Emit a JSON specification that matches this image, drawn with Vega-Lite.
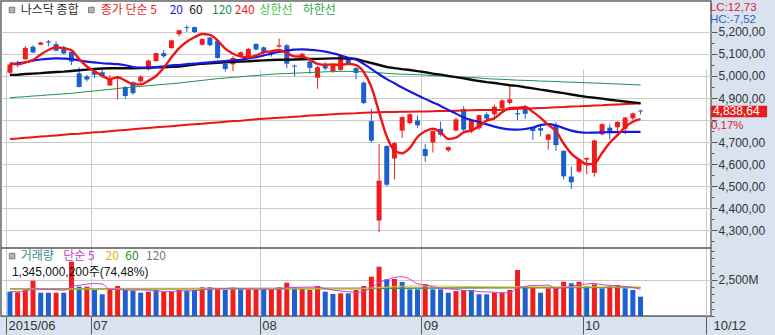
{
  "$schema": "https://vega.github.io/schema/vega-lite/v6.json",
  "width": 710,
  "height": 315,
  "autosize": "none",
  "padding": {"left": 1, "top": 1, "right": 64, "bottom": 19},
  "background": "#d8e3ef",
  "config": {
    "view": {"fill": "white", "stroke": "#6a6a6a", "strokeWidth": 1.5},
    "axis": {"labelFont": "Liberation Sans", "labelColor": "#333333", "titleFont": "Liberation Sans"},
    "text": {"font": "Noto Sans CJK KR"}
  },
  "datasets": {
    "px": [
      {"i":0,"d":"2015-06-16","o":5015,"h":5058,"l":5010,"c":5052,"cd":"up","m5":5058,"m20":5053,"m60":5005,"m120":4901,"m240":4714,"v":1687,"vd":"dn","v5":1697,"v20":1860,"v60":1850,"v120":1900},
      {"i":1,"d":"2015-06-17","o":5058,"h":5070,"l":5040,"c":5050,"cd":"dn","m5":5053,"m20":5058,"m60":5006,"m120":4904,"m240":4716,"v":1646,"vd":"up","v5":1687,"v20":1860,"v60":1851,"v120":1901},
      {"i":2,"d":"2015-06-18","o":5076,"h":5136,"l":5074,"c":5128,"cd":"up","m5":5062,"m20":5062,"m60":5009,"m120":4906,"m240":4719,"v":1854,"vd":"up","v5":1717,"v20":1860,"v60":1852,"v120":1902},
      {"i":3,"d":"2015-06-19","o":5133,"h":5140,"l":5104,"c":5107,"cd":"dn","m5":5073,"m20":5070,"m60":5011,"m120":4909,"m240":4722,"v":2451,"vd":"up","v5":1868,"v20":1862,"v60":1852,"v120":1903},
      {"i":4,"d":"2015-06-22","o":5142,"h":5156,"l":5140,"c":5152,"cd":"up","m5":5098,"m20":5075,"m60":5013,"m120":4911,"m240":4725,"v":1618,"vd":"dn","v5":1851,"v20":1862,"v60":1853,"v120":1904},
      {"i":5,"d":"2015-06-23","o":5157,"h":5164,"l":5135,"c":5152,"cd":"dn","m5":5118,"m20":5078,"m60":5016,"m120":4914,"m240":4727,"v":1618,"vd":"dn","v5":1837,"v20":1863,"v60":1853,"v120":1905},
      {"i":6,"d":"2015-06-24","o":5145,"h":5157,"l":5112,"c":5115,"cd":"dn","m5":5131,"m20":5080,"m60":5018,"m120":4916,"m240":4730,"v":1618,"vd":"up","v5":1832,"v20":1864,"v60":1854,"v120":1906},
      {"i":7,"d":"2015-06-25","o":5132,"h":5138,"l":5098,"c":5102,"cd":"dn","m5":5126,"m20":5079,"m60":5020,"m120":4919,"m240":4733,"v":1618,"vd":"dn","v5":1785,"v20":1864,"v60":1855,"v120":1907},
      {"i":8,"d":"2015-06-26","o":5110,"h":5112,"l":5050,"c":5066,"cd":"dn","m5":5117,"m20":5077,"m60":5023,"m120":4921,"m240":4736,"v":3771,"vd":"up","v5":2049,"v20":1868,"v60":1856,"v120":1908},
      {"i":9,"d":"2015-06-29","o":5012,"h":5040,"l":4948,"c":4950,"cd":"dn","m5":5077,"m20":5071,"m60":5026,"m120":4925,"m240":4738,"v":2035,"vd":"dn","v5":2132,"v20":1870,"v60":1857,"v120":1909},
      {"i":10,"d":"2015-06-30","o":4998,"h":5005,"l":4975,"c":4984,"cd":"dn","m5":5043,"m20":5065,"m60":5029,"m120":4929,"m240":4741,"v":2035,"vd":"up","v5":2215,"v20":1872,"v60":1858,"v120":1910},
      {"i":11,"d":"2015-07-01","o":5022,"h":5035,"l":4990,"c":5006,"cd":"dn","m5":5022,"m20":5062,"m60":5032,"m120":4932,"m240":4744,"v":1805,"vd":"dn","v5":2253,"v20":1874,"v60":1858,"v120":1911},
      {"i":12,"d":"2015-07-02","o":5017,"h":5030,"l":4990,"c":4998,"cd":"dn","m5":5001,"m20":5058,"m60":5034,"m120":4936,"m240":4746,"v":1507,"vd":"dn","v5":2231,"v20":1875,"v60":1859,"v120":1912},
      {"i":13,"d":"2015-07-06","o":4957,"h":5005,"l":4955,"c":4990,"cd":"up","m5":4986,"m20":5056,"m60":5035,"m120":4939,"m240":4749,"v":1805,"vd":"up","v5":1837,"v20":1876,"v60":1860,"v120":1913},
      {"i":14,"d":"2015-07-07","o":4989,"h":4998,"l":4893,"c":4994,"cd":"up","m5":4994,"m20":5054,"m60":5035,"m120":4943,"m240":4752,"v":2083,"vd":"up","v5":1847,"v20":1877,"v60":1860,"v120":1914},
      {"i":15,"d":"2015-07-08","o":4950,"h":4955,"l":4897,"c":4909,"cd":"dn","m5":4979,"m20":5049,"m60":5035,"m120":4947,"m240":4755,"v":1805,"vd":"dn","v5":1801,"v20":1878,"v60":1861,"v120":1915},
      {"i":16,"d":"2015-07-09","o":4972,"h":4975,"l":4915,"c":4922,"cd":"dn","m5":4963,"m20":5041,"m60":5035,"m120":4950,"m240":4758,"v":1757,"vd":"dn","v5":1791,"v20":1878,"v60":1862,"v120":1916},
      {"i":17,"d":"2015-07-10","o":4975,"h":5003,"l":4970,"c":4997,"cd":"up","m5":4962,"m20":5038,"m60":5036,"m120":4953,"m240":4761,"v":1618,"vd":"dn","v5":1814,"v20":1879,"v60":1862,"v120":1917},
      {"i":18,"d":"2015-07-13","o":5030,"h":5075,"l":5025,"c":5070,"cd":"up","m5":4978,"m20":5038,"m60":5037,"m120":4956,"m240":4764,"v":1687,"vd":"up","v5":1790,"v20":1880,"v60":1863,"v120":1918},
      {"i":19,"d":"2015-07-14","o":5068,"h":5106,"l":5065,"c":5104,"cd":"up","m5":5000,"m20":5040,"m60":5039,"m120":4959,"m240":4767,"v":1805,"vd":"dn","v5":1734,"v20":1880,"v60":1864,"v120":1919},
      {"i":20,"d":"2015-07-15","o":5104,"h":5118,"l":5082,"c":5090,"cd":"dn","m5":5037,"m20":5044,"m60":5040,"m120":4962,"m240":4769,"v":1687,"vd":"up","v5":1711,"v20":1881,"v60":1864,"v120":1920},
      {"i":21,"d":"2015-07-16","o":5127,"h":5164,"l":5124,"c":5162,"cd":"up","m5":5085,"m20":5048,"m60":5042,"m120":4965,"m240":4772,"v":1687,"vd":"up","v5":1697,"v20":1882,"v60":1865,"v120":1921},
      {"i":22,"d":"2015-07-17","o":5190,"h":5210,"l":5180,"c":5208,"cd":"up","m5":5127,"m20":5050,"m60":5043,"m120":4968,"m240":4775,"v":1805,"vd":"up","v5":1734,"v20":1882,"v60":1866,"v120":1922},
      {"i":23,"d":"2015-07-20","o":5222,"h":5231,"l":5200,"c":5218,"cd":"dn","m5":5156,"m20":5054,"m60":5048,"m120":4972,"m240":4778,"v":1757,"vd":"dn","v5":1748,"v20":1883,"v60":1866,"v120":1923},
      {"i":24,"d":"2015-07-21","o":5222,"h":5225,"l":5195,"c":5200,"cd":"dn","m5":5176,"m20":5056,"m60":5052,"m120":4976,"m240":4781,"v":1805,"vd":"dn","v5":1748,"v20":1883,"v60":1867,"v120":1924},
      {"i":25,"d":"2015-07-22","o":5142,"h":5172,"l":5138,"c":5168,"cd":"up","m5":5191,"m20":5060,"m60":5056,"m120":4980,"m240":4783,"v":1993,"vd":"up","v5":1809,"v20":1884,"v60":1868,"v120":1925},
      {"i":26,"d":"2015-07-23","o":5175,"h":5178,"l":5135,"c":5140,"cd":"dn","m5":5187,"m20":5062,"m60":5058,"m120":4984,"m240":4786,"v":1993,"vd":"dn","v5":1871,"v20":1884,"v60":1868,"v120":1926},
      {"i":27,"d":"2015-07-24","o":5160,"h":5165,"l":5078,"c":5082,"cd":"dn","m5":5162,"m20":5065,"m60":5060,"m120":4988,"m240":4789,"v":1923,"vd":"up","v5":1894,"v20":1885,"v60":1869,"v120":1927},
      {"i":28,"d":"2015-07-27","o":5055,"h":5060,"l":5020,"c":5032,"cd":"dn","m5":5124,"m20":5068,"m60":5062,"m120":4991,"m240":4792,"v":1805,"vd":"dn","v5":1904,"v20":1885,"v60":1870,"v120":1928},
      {"i":29,"d":"2015-07-28","o":5053,"h":5090,"l":5022,"c":5082,"cd":"up","m5":5101,"m20":5071,"m60":5064,"m120":4994,"m240":4795,"v":1965,"vd":"up","v5":1936,"v20":1885,"v60":1870,"v120":1929},
      {"i":30,"d":"2015-07-29","o":5088,"h":5112,"l":5085,"c":5108,"cd":"up","m5":5089,"m20":5074,"m60":5066,"m120":4996,"m240":4797,"v":1854,"vd":"dn","v5":1908,"v20":1885,"v60":1871,"v120":1930},
      {"i":31,"d":"2015-07-30","o":5082,"h":5127,"l":5078,"c":5123,"cd":"up","m5":5085,"m20":5080,"m60":5067,"m120":5000,"m240":4800,"v":1854,"vd":"up","v5":1880,"v20":1885,"v60":1872,"v120":1931},
      {"i":32,"d":"2015-07-31","o":5145,"h":5150,"l":5115,"c":5120,"cd":"dn","m5":5093,"m20":5086,"m60":5069,"m120":5002,"m240":4803,"v":1854,"vd":"up","v5":1866,"v20":1885,"v60":1872,"v120":1932},
      {"i":33,"d":"2015-08-03","o":5130,"h":5135,"l":5095,"c":5108,"cd":"dn","m5":5108,"m20":5093,"m60":5071,"m120":5005,"m240":4806,"v":1854,"vd":"dn","v5":1876,"v20":1884,"v60":1873,"v120":1933},
      {"i":34,"d":"2015-08-04","o":5112,"h":5118,"l":5088,"c":5100,"cd":"dn","m5":5112,"m20":5102,"m60":5073,"m120":5008,"m240":4808,"v":1805,"vd":"up","v5":1844,"v20":1884,"v60":1874,"v120":1934},
      {"i":35,"d":"2015-08-05","o":5134,"h":5170,"l":5128,"c":5140,"cd":"up","m5":5118,"m20":5109,"m60":5074,"m120":5010,"m240":4810,"v":1993,"vd":"up","v5":1872,"v20":1884,"v60":1874,"v120":1935},
      {"i":36,"d":"2015-08-06","o":5140,"h":5145,"l":5035,"c":5056,"cd":"dn","m5":5105,"m20":5115,"m60":5074,"m120":5011,"m240":4812,"v":2312,"vd":"up","v5":1964,"v20":1885,"v60":1875,"v120":1936},
      {"i":37,"d":"2015-08-07","o":5047,"h":5052,"l":4998,"c":5043,"cd":"dn","m5":5089,"m20":5120,"m60":5075,"m120":5013,"m240":4815,"v":1993,"vd":"dn","v5":1991,"v20":1886,"v60":1876,"v120":1937},
      {"i":38,"d":"2015-08-10","o":5082,"h":5106,"l":5078,"c":5101,"cd":"up","m5":5088,"m20":5121,"m60":5076,"m120":5014,"m240":4817,"v":1923,"vd":"up","v5":2005,"v20":1887,"v60":1876,"v120":1938},
      {"i":39,"d":"2015-08-11","o":5066,"h":5070,"l":5010,"c":5037,"cd":"dn","m5":5075,"m20":5119,"m60":5077,"m120":5016,"m240":4820,"v":1805,"vd":"up","v5":2005,"v20":1887,"v60":1877,"v120":1939},
      {"i":40,"d":"2015-08-12","o":4992,"h":5046,"l":4942,"c":5040,"cd":"up","m5":5055,"m20":5116,"m60":5078,"m120":5017,"m240":4822,"v":2083,"vd":"up","v5":2023,"v20":1888,"v60":1878,"v120":1940},
      {"i":41,"d":"2015-08-13","o":5048,"h":5062,"l":5025,"c":5034,"cd":"dn","m5":5051,"m20":5111,"m60":5079,"m120":5019,"m240":4824,"v":1687,"vd":"dn","v5":1898,"v20":1886,"v60":1880,"v120":1941},
      {"i":42,"d":"2015-08-14","o":5022,"h":5055,"l":5015,"c":5048,"cd":"up","m5":5052,"m20":5103,"m60":5080,"m120":5020,"m240":4826,"v":1528,"vd":"dn","v5":1805,"v20":1884,"v60":1882,"v120":1942},
      {"i":43,"d":"2015-08-17","o":5028,"h":5095,"l":5022,"c":5092,"cd":"up","m5":5050,"m20":5094,"m60":5080,"m120":5021,"m240":4828,"v":1576,"vd":"up","v5":1736,"v20":1882,"v60":1884,"v120":1943},
      {"i":44,"d":"2015-08-18","o":5076,"h":5082,"l":5048,"c":5059,"cd":"dn","m5":5055,"m20":5083,"m60":5079,"m120":5021,"m240":4830,"v":1576,"vd":"dn","v5":1690,"v20":1880,"v60":1886,"v120":1944},
      {"i":45,"d":"2015-08-19","o":5036,"h":5040,"l":4985,"c":5014,"cd":"dn","m5":5049,"m20":5075,"m60":5077,"m120":5020,"m240":4831,"v":1805,"vd":"up","v5":1634,"v20":1882,"v60":1888,"v120":1945},
      {"i":46,"d":"2015-08-20","o":4970,"h":4975,"l":4872,"c":4877,"cd":"dn","m5":5018,"m20":5055,"m60":5068,"m120":5019,"m240":4833,"v":2083,"vd":"up","v5":1714,"v20":1900,"v60":1891,"v120":1946},
      {"i":47,"d":"2015-08-21","o":4795,"h":4850,"l":4697,"c":4706,"cd":"dn","m5":4950,"m20":5032,"m60":5059,"m120":5017,"m240":4834,"v":2729,"vd":"up","v5":1954,"v20":1930,"v60":1895,"v120":1947},
      {"i":48,"d":"2015-08-24","o":4343,"h":4690,"l":4290,"c":4524,"cd":"up","m5":4836,"m20":5008,"m60":5050,"m120":5015,"m240":4835,"v":3423,"vd":"up","v5":2323,"v20":1975,"v60":1900,"v120":1949},
      {"i":49,"d":"2015-08-25","o":4682,"h":4685,"l":4500,"c":4506,"cd":"dn","m5":4725,"m20":4986,"m60":5041,"m120":5012,"m240":4836,"v":2548,"vd":"dn","v5":2518,"v20":2010,"v60":1905,"v120":1950},
      {"i":50,"d":"2015-08-26","o":4625,"h":4700,"l":4530,"c":4695,"cd":"up","m5":4662,"m20":4967,"m60":5036,"m120":5010,"m240":4836,"v":2569,"vd":"up","v5":2670,"v20":2045,"v60":1910,"v120":1951},
      {"i":51,"d":"2015-08-27","o":4752,"h":4818,"l":4718,"c":4813,"cd":"up","m5":4649,"m20":4948,"m60":5031,"m120":5008,"m240":4837,"v":2361,"vd":"dn","v5":2726,"v20":2070,"v60":1914,"v120":1952},
      {"i":52,"d":"2015-08-28","o":4786,"h":4830,"l":4780,"c":4826,"cd":"up","m5":4673,"m20":4930,"m60":5027,"m120":5007,"m240":4838,"v":1854,"vd":"dn","v5":2551,"v20":2085,"v60":1917,"v120":1953},
      {"i":53,"d":"2015-08-31","o":4798,"h":4820,"l":4765,"c":4776,"cd":"dn","m5":4723,"m20":4913,"m60":5022,"m120":5006,"m240":4839,"v":1854,"vd":"dn","v5":2237,"v20":2090,"v60":1920,"v120":1954},
      {"i":54,"d":"2015-09-01","o":4668,"h":4690,"l":4610,"c":4636,"cd":"dn","m5":4749,"m20":4896,"m60":5017,"m120":5004,"m240":4839,"v":2222,"vd":"up","v5":2172,"v20":2095,"v60":1923,"v120":1955},
      {"i":55,"d":"2015-09-02","o":4698,"h":4752,"l":4652,"c":4750,"cd":"up","m5":4760,"m20":4880,"m60":5011,"m120":5002,"m240":4840,"v":1854,"vd":"dn","v5":2029,"v20":2090,"v60":1926,"v120":1956},
      {"i":56,"d":"2015-09-03","o":4760,"h":4792,"l":4725,"c":4733,"cd":"dn","m5":4744,"m20":4864,"m60":5006,"m120":5001,"m240":4841,"v":1854,"vd":"dn","v5":1928,"v20":2080,"v60":1929,"v120":1957},
      {"i":57,"d":"2015-09-04","o":4662,"h":4680,"l":4655,"c":4677,"cd":"up","m5":4714,"m20":4846,"m60":5000,"m120":4999,"m240":4841,"v":1618,"vd":"dn","v5":1880,"v20":2070,"v60":1932,"v120":1958},
      {"i":58,"d":"2015-09-08","o":4752,"h":4810,"l":4748,"c":4803,"cd":"up","m5":4720,"m20":4829,"m60":4995,"m120":4997,"m240":4842,"v":1736,"vd":"up","v5":1857,"v20":2060,"v60":1935,"v120":1959},
      {"i":59,"d":"2015-09-09","o":4850,"h":4862,"l":4750,"c":4756,"cd":"dn","m5":4744,"m20":4811,"m60":4989,"m120":4995,"m240":4843,"v":1805,"vd":"up","v5":1773,"v20":2050,"v60":1938,"v120":1960},
      {"i":60,"d":"2015-09-10","o":4748,"h":4800,"l":4740,"c":4796,"cd":"up","m5":4753,"m20":4800,"m60":4983,"m120":4993,"m240":4844,"v":1805,"vd":"dn","v5":1764,"v20":2045,"v60":1941,"v120":1961},
      {"i":61,"d":"2015-09-11","o":4762,"h":4825,"l":4755,"c":4822,"cd":"up","m5":4771,"m20":4791,"m60":4977,"m120":4991,"m240":4845,"v":1507,"vd":"dn","v5":1694,"v20":2040,"v60":1943,"v120":1962},
      {"i":62,"d":"2015-09-14","o":4826,"h":4835,"l":4795,"c":4806,"cd":"dn","m5":4797,"m20":4780,"m60":4972,"m120":4988,"m240":4845,"v":1507,"vd":"dn","v5":1672,"v20":2035,"v60":1945,"v120":1963},
      {"i":63,"d":"2015-09-15","o":4826,"h":4870,"l":4800,"c":4860,"cd":"up","m5":4808,"m20":4770,"m60":4968,"m120":4986,"m240":4846,"v":1618,"vd":"up","v5":1648,"v20":2030,"v60":1946,"v120":1964},
      {"i":64,"d":"2015-09-16","o":4853,"h":4895,"l":4850,"c":4889,"cd":"up","m5":4835,"m20":4762,"m60":4963,"m120":4985,"m240":4847,"v":1618,"vd":"up","v5":1611,"v20":2025,"v60":1947,"v120":1965},
      {"i":65,"d":"2015-09-17","o":4878,"h":4960,"l":4870,"c":4894,"cd":"up","m5":4854,"m20":4757,"m60":4958,"m120":4983,"m240":4849,"v":1805,"vd":"up","v5":1611,"v20":2020,"v60":1948,"v120":1966},
      {"i":66,"d":"2015-09-18","o":4831,"h":4860,"l":4800,"c":4826,"cd":"dn","m5":4855,"m20":4756,"m60":4955,"m120":4981,"m240":4851,"v":3194,"vd":"up","v5":1948,"v20":2030,"v60":1950,"v120":1967},
      {"i":67,"d":"2015-09-21","o":4854,"h":4868,"l":4805,"c":4828,"cd":"dn","m5":4859,"m20":4759,"m60":4949,"m120":4980,"m240":4852,"v":2035,"vd":"dn","v5":2054,"v20":2030,"v60":1951,"v120":1968},
      {"i":68,"d":"2015-09-22","o":4765,"h":4768,"l":4710,"c":4750,"cd":"dn","m5":4837,"m20":4766,"m60":4944,"m120":4979,"m240":4853,"v":1965,"vd":"up","v5":2123,"v20":2030,"v60":1952,"v120":1969},
      {"i":69,"d":"2015-09-23","o":4763,"h":4775,"l":4725,"c":4752,"cd":"dn","m5":4810,"m20":4777,"m60":4938,"m120":4977,"m240":4855,"v":1618,"vd":"dn","v5":2123,"v20":2028,"v60":1953,"v120":1970},
      {"i":70,"d":"2015-09-24","o":4710,"h":4738,"l":4665,"c":4734,"cd":"up","m5":4778,"m20":4781,"m60":4933,"m120":4976,"m240":4856,"v":1923,"vd":"up","v5":2147,"v20":2028,"v60":1954,"v120":1972},
      {"i":71,"d":"2015-09-25","o":4778,"h":4790,"l":4660,"c":4686,"cd":"dn","m5":4750,"m20":4775,"m60":4927,"m120":4975,"m240":4858,"v":1965,"vd":"up","v5":1901,"v20":2026,"v60":1955,"v120":1973},
      {"i":72,"d":"2015-09-28","o":4660,"h":4662,"l":4530,"c":4544,"cd":"dn","m5":4693,"m20":4763,"m60":4922,"m120":4973,"m240":4859,"v":2382,"vd":"up","v5":1971,"v20":2026,"v60":1956,"v120":1975},
      {"i":73,"d":"2015-09-29","o":4543,"h":4588,"l":4487,"c":4517,"cd":"dn","m5":4647,"m20":4752,"m60":4916,"m120":4972,"m240":4861,"v":2271,"vd":"dn","v5":2032,"v20":2025,"v60":1957,"v120":1977},
      {"i":74,"d":"2015-09-30","o":4566,"h":4622,"l":4560,"c":4620,"cd":"up","m5":4620,"m20":4745,"m60":4910,"m120":4971,"m240":4862,"v":2382,"vd":"up","v5":2185,"v20":2025,"v60":1958,"v120":1979},
      {"i":75,"d":"2015-10-01","o":4620,"h":4630,"l":4554,"c":4627,"cd":"up","m5":4599,"m20":4742,"m60":4905,"m120":4969,"m240":4864,"v":2083,"vd":"dn","v5":2217,"v20":2024,"v60":1959,"v120":1981},
      {"i":76,"d":"2015-10-02","o":4560,"h":4710,"l":4543,"c":4707,"cd":"up","m5":4603,"m20":4743,"m60":4901,"m120":4968,"m240":4866,"v":2201,"vd":"up","v5":2264,"v20":2023,"v60":1960,"v120":1983},
      {"i":77,"d":"2015-10-05","o":4735,"h":4785,"l":4730,"c":4781,"cd":"up","m5":4650,"m20":4744,"m60":4897,"m120":4967,"m240":4867,"v":1923,"vd":"dn","v5":2172,"v20":2022,"v60":1961,"v120":1985},
      {"i":78,"d":"2015-10-06","o":4765,"h":4780,"l":4712,"c":4748,"cd":"dn","m5":4697,"m20":4745,"m60":4892,"m120":4965,"m240":4869,"v":2083,"vd":"up","v5":2134,"v20":2021,"v60":1962,"v120":1987},
      {"i":79,"d":"2015-10-07","o":4767,"h":4795,"l":4740,"c":4791,"cd":"up","m5":4731,"m20":4745,"m60":4888,"m120":4964,"m240":4871,"v":2153,"vd":"up","v5":2089,"v20":2020,"v60":1963,"v120":1988},
      {"i":80,"d":"2015-10-08","o":4760,"h":4815,"l":4735,"c":4811,"cd":"up","m5":4768,"m20":4746,"m60":4884,"m120":4962,"m240":4873,"v":1923,"vd":"dn","v5":2057,"v20":2018,"v60":1964,"v120":1989},
      {"i":81,"d":"2015-10-09","o":4808,"h":4834,"l":4800,"c":4830,"cd":"up","m5":4792,"m20":4746,"m60":4880,"m120":4961,"m240":4874,"v":1805,"vd":"dn","v5":1977,"v20":2017,"v60":1965,"v120":1990},
      {"i":82,"d":"2015-10-12","o":4843,"h":4846,"l":4825,"c":4838.64,"cd":"dn","m5":4804,"m20":4746,"m60":4876,"m120":4959,"m240":4876,"v":1345,"vd":"dn","v5":1862,"v20":2015,"v60":1966,"v120":1990}
    ],
    "ptx": [
      {"t":"나스닥 종합","xi":1.41,"py":5300,"k":"name"},
      {"t":"종가 단순 5","xi":11.8,"py":5300,"k":"ma5"},
      {"t":"20","xi":20.77,"py":5300,"k":"ma20"},
      {"t":"60","xi":23.33,"py":5300,"k":"ma60"},
      {"t":"120","xi":26.28,"py":5300,"k":"ma120"},
      {"t":"240","xi":29.23,"py":5300,"k":"ma240"},
      {"t":"상한선","xi":32.44,"py":5300,"k":"hi"},
      {"t":"하한선","xi":38.08,"py":5300,"k":"lo"}
    ],
    "psq": [
      {"xi":0.26,"py":5300},
      {"xi":10.58,"py":5300}
    ],
    "rtx": [
      {"t":"LC:12,73","xi":91.03,"py":5307,"k":"lc"},
      {"t":"HC:-7,52","xi":91.03,"py":5255,"k":"hc"},
      {"t":"0,17%","xi":91.15,"py":4775,"k":"lc"}
    ],
    "pbox": [
      {"xi":91.15,"xe":98.46,"pl":4812.3,"ph":4864.5,"t":"4,838,64","tx":91.41,"py":4838.64}
    ],
    "vtx": [
      {"t":"거래량","xi":1.41,"vy":4200,"k":"vol"},
      {"t":"단순 5","xi":6.92,"vy":4200,"k":"v5"},
      {"t":"20","xi":12.44,"vy":4200,"k":"v20"},
      {"t":"60","xi":15.0,"vy":4200,"k":"v60"},
      {"t":"120","xi":17.69,"vy":4200,"k":"v120"}
    ],
    "vtx2": [
      {"t":"1,345,000,200주(74,48%)","xi":0.26,"vy":3090}
    ],
    "vsq": [
      {"xi":0.28,"vy":4160}
    ]
  },
  "layer": [
    {
      "data": {"name": "px"},
      "resolve": {"scale": {"color": "independent"}, "axis": {"y": "independent"}},
      "layer": [
        {
          "mark": {"type": "rule", "strokeWidth": 1},
          "encoding": {
            "x": {"field": "i", "type": "quantitative", "title": null,
                  "scale": {"domain": [-0.5128, 90.513], "nice": false, "zero": false},
                  "axis": {"values": [-0.5128, 10.5, 32.5, 53.5, 74.5, 90.513],
                           "labelExpr": "datum.value < 0 ? '2015/06' : datum.value < 11 ? '07' : datum.value < 33 ? '08' : datum.value < 54 ? '09' : datum.value < 75 ? '10' : '10/12'",
                           "labelAlign": "left", "labelBaseline": "top",
                           "labelOffset": {"condition": {"test": "datum.value > 90", "value": 7}, "value": 2},
                           "tickSize": 18, "tickColor": "#5a5a5a", "domainColor": "#777777",
                           "grid": true, "gridColor": "#cacaca", "labelPadding": -15,
                           "labelFontSize": 13, "labelColor": "#333333",
                           "labelOverlap": false, "labelFlush": false, "labelBound": false, "title": null}},
            "y": {"field": "l", "type": "quantitative", "title": null,
                  "scale": {"domain": [4218.2, 5340.9], "range": [247, 0], "nice": false, "zero": false},
                  "axis": {"orient": "right",
                           "values": [4300,4400,4500,4600,4700,4800,4900,5000,5100,5200],
                           "labelExpr": "datum.value == 4800 ? '' : replace(format(datum.value, ',.2f'), '.', ',')",
                           "tickSize": 6, "tickColor": "#555555", "domainColor": "#8a8a8a",
                           "grid": true, "gridColor": "#cacaca",
                           "labelPadding": 1, "labelFontSize": 12, "labelColor": "#333333",
                           "labelOverlap": false, "labelBound": false, "labelFlush": false, "title": null}},
            "y2": {"field": "h"},
            "color": {"field": "cd", "type": "nominal", "scale": {"domain": ["up", "dn"], "range": ["#ee1c1c", "#1c5ed0"]}, "legend": null}
          }
        },
        {
          "mark": {"type": "bar", "size": 5},
          "encoding": {
            "x": {"field": "i", "type": "quantitative", "title": null},
            "y": {"field": "o", "type": "quantitative", "title": null,
                  "axis": {"orient": "right",
                           "values": [4250,4350,4450,4550,4650,4750,4850,4950,5050,5150],
                           "labels": false, "domain": false, "grid": false,
                           "tickSize": 3, "tickColor": "#555555", "title": null}},
            "y2": {"field": "c"},
            "color": {"field": "cd", "type": "nominal", "scale": {"domain": ["up", "dn"], "range": ["#ee1c1c", "#1c5ed0"]}, "legend": null}
          }
        },
        {
          "mark": {"type": "line", "color": "#17944a", "strokeWidth": 1},
          "encoding": {"x": {"field": "i", "type": "quantitative", "title": null}, "y": {"field": "m120", "type": "quantitative", "title": null, "axis": null}}
        },
        {
          "mark": {"type": "line", "color": "#ee1414", "strokeWidth": 2},
          "encoding": {"x": {"field": "i", "type": "quantitative", "title": null}, "y": {"field": "m240", "type": "quantitative", "title": null, "axis": null}}
        },
        {
          "mark": {"type": "line", "color": "#0a0a0a", "strokeWidth": 2.4},
          "encoding": {"x": {"field": "i", "type": "quantitative", "title": null}, "y": {"field": "m60", "type": "quantitative", "title": null, "axis": null}}
        },
        {
          "mark": {"type": "line", "color": "#1818e0", "strokeWidth": 2.2, "interpolate": "monotone"},
          "encoding": {"x": {"field": "i", "type": "quantitative", "title": null}, "y": {"field": "m20", "type": "quantitative", "title": null, "axis": null}}
        },
        {
          "mark": {"type": "line", "color": "#f01414", "strokeWidth": 2.4, "interpolate": "monotone"},
          "encoding": {"x": {"field": "i", "type": "quantitative", "title": null}, "y": {"field": "m5", "type": "quantitative", "title": null, "axis": null}}
        },
        {
          "data": {"name": "psq"},
          "mark": {"type": "point", "shape": "square", "filled": true, "size": 30, "color": "#b4b4b4", "stroke": "#7a7a7a", "strokeWidth": 1, "opacity": 1},
          "encoding": {
            "x": {"field": "xi", "type": "quantitative", "title": null},
            "y": {"field": "py", "type": "quantitative", "title": null, "axis": null}
          }
        },
        {
          "data": {"name": "ptx"},
          "mark": {"type": "text", "align": "left", "baseline": "middle", "fontSize": 12, "font": "Noto Sans CJK KR"},
          "encoding": {
            "x": {"field": "xi", "type": "quantitative", "title": null},
            "y": {"field": "py", "type": "quantitative", "title": null, "axis": null},
            "text": {"field": "t"},
            "color": {"field": "k", "type": "nominal", "legend": null,
                      "scale": {"domain": ["name","ma5","ma20","ma60","ma120","ma240","hi","lo"],
                                "range": ["#2b2b2b","#ee1c1c","#1c1ce0","#111111","#15954a","#ee1c1c","#3cc43c","#2aa84a"]}}
          }
        },
        {
          "data": {"name": "rtx"},
          "mark": {"type": "text", "align": "left", "baseline": "middle", "fontSize": 11.5, "font": "Liberation Sans"},
          "encoding": {
            "x": {"field": "xi", "type": "quantitative", "title": null},
            "y": {"field": "py", "type": "quantitative", "title": null, "axis": null},
            "text": {"field": "t"},
            "color": {"field": "k", "type": "nominal", "legend": null,
                      "scale": {"domain": ["lc","hc"], "range": ["#e02030","#2b63c8"]}}
          }
        },
        {
          "data": {"name": "pbox"},
          "mark": {"type": "rect", "color": "#e41e1e"},
          "encoding": {
            "x": {"field": "xi", "type": "quantitative", "title": null},
            "x2": {"field": "xe"},
            "y": {"field": "pl", "type": "quantitative", "title": null, "axis": null},
            "y2": {"field": "ph"}
          }
        },
        {
          "data": {"name": "pbox"},
          "mark": {"type": "text", "align": "left", "baseline": "middle", "fontSize": 12, "font": "Liberation Sans", "color": "#ffffff"},
          "encoding": {
            "x": {"field": "tx", "type": "quantitative", "title": null},
            "y": {"field": "py", "type": "quantitative", "title": null, "axis": null},
            "text": {"field": "t"}
          }
        }
      ]
    },
    {
      "data": {"name": "px"},
      "resolve": {"scale": {"color": "independent"}, "axis": {"y": "independent"}},
      "layer": [
        {
          "mark": {"type": "bar", "size": 5},
          "encoding": {
            "x": {"field": "i", "type": "quantitative", "title": null},
            "y": {"field": "v", "type": "quantitative", "title": null,
                  "scale": {"domain": [0, 4722.2], "range": [315, 247], "nice": false, "zero": false},
                  "axis": {"orient": "right",
                           "values": [2500],
                           "labelExpr": "'2,500M'",
                           "tickSize": 6, "tickColor": "#555555", "domainColor": "#8a8a8a",
                           "grid": true, "gridColor": "#cacaca",
                           "labelPadding": 1, "labelFontSize": 12, "labelColor": "#333333",
                           "labelOverlap": false, "labelBound": false, "labelFlush": false, "title": null}},
            "y2": {"datum": 0},
            "color": {"field": "vd", "type": "nominal", "scale": {"domain": ["up", "dn"], "range": ["#f01e1e", "#1e5fd2"]}, "legend": null}
          }
        },
        {
          "mark": {"type": "line", "color": "#8a8a8a", "strokeWidth": 1},
          "encoding": {"x": {"field": "i", "type": "quantitative", "title": null},
                       "y": {"field": "v120", "type": "quantitative", "title": null,
                             "axis": {"orient": "right", "values": [0,500,1000,1500,2000,3000,3500,4000,4500],
                                      "labels": false, "domain": false, "grid": false,
                                      "tickSize": 3, "tickColor": "#555555", "title": null}}}
        },
        {
          "mark": {"type": "line", "color": "#23a03c", "strokeWidth": 1},
          "encoding": {"x": {"field": "i", "type": "quantitative", "title": null}, "y": {"field": "v60", "type": "quantitative", "title": null, "axis": null}}
        },
        {
          "mark": {"type": "line", "color": "#e8c020", "strokeWidth": 1},
          "encoding": {"x": {"field": "i", "type": "quantitative", "title": null}, "y": {"field": "v20", "type": "quantitative", "title": null, "axis": null}}
        },
        {
          "mark": {"type": "line", "color": "#d040d0", "strokeWidth": 1, "interpolate": "monotone"},
          "encoding": {"x": {"field": "i", "type": "quantitative", "title": null}, "y": {"field": "v5", "type": "quantitative", "title": null, "axis": null}}
        },
        {
          "data": {"values": [{"top": 4722.2}]},
          "mark": {"type": "rule", "color": "#555555", "strokeWidth": 1.5},
          "encoding": {"y": {"field": "top", "type": "quantitative", "title": null, "axis": null}}
        },
        {
          "data": {"name": "vsq"},
          "mark": {"type": "point", "shape": "square", "filled": true, "size": 30, "color": "#b4b4b4", "stroke": "#7a7a7a", "strokeWidth": 1, "opacity": 1},
          "encoding": {
            "x": {"field": "xi", "type": "quantitative", "title": null},
            "y": {"field": "vy", "type": "quantitative", "title": null, "axis": null}
          }
        },
        {
          "data": {"name": "vtx"},
          "mark": {"type": "text", "align": "left", "baseline": "middle", "fontSize": 12, "font": "Noto Sans CJK KR"},
          "encoding": {
            "x": {"field": "xi", "type": "quantitative", "title": null},
            "y": {"field": "vy", "type": "quantitative", "title": null, "axis": null},
            "text": {"field": "t"},
            "color": {"field": "k", "type": "nominal", "legend": null,
                      "scale": {"domain": ["vol","v5","v20","v60","v120"],
                                "range": ["#2f8f8f","#c838c8","#e0b010","#1f8f1f","#777777"]}}
          }
        },
        {
          "data": {"name": "vtx2"},
          "mark": {"type": "text", "align": "left", "baseline": "middle", "fontSize": 12, "font": "Liberation Sans, Noto Sans CJK KR", "color": "#111111"},
          "encoding": {
            "x": {"field": "xi", "type": "quantitative", "title": null},
            "y": {"field": "vy", "type": "quantitative", "title": null, "axis": null},
            "text": {"field": "t"}
          }
        }
      ]
    }
  ],
  "resolve": {"scale": {"y": "independent", "color": "independent"}, "axis": {"y": "independent"}}
}
